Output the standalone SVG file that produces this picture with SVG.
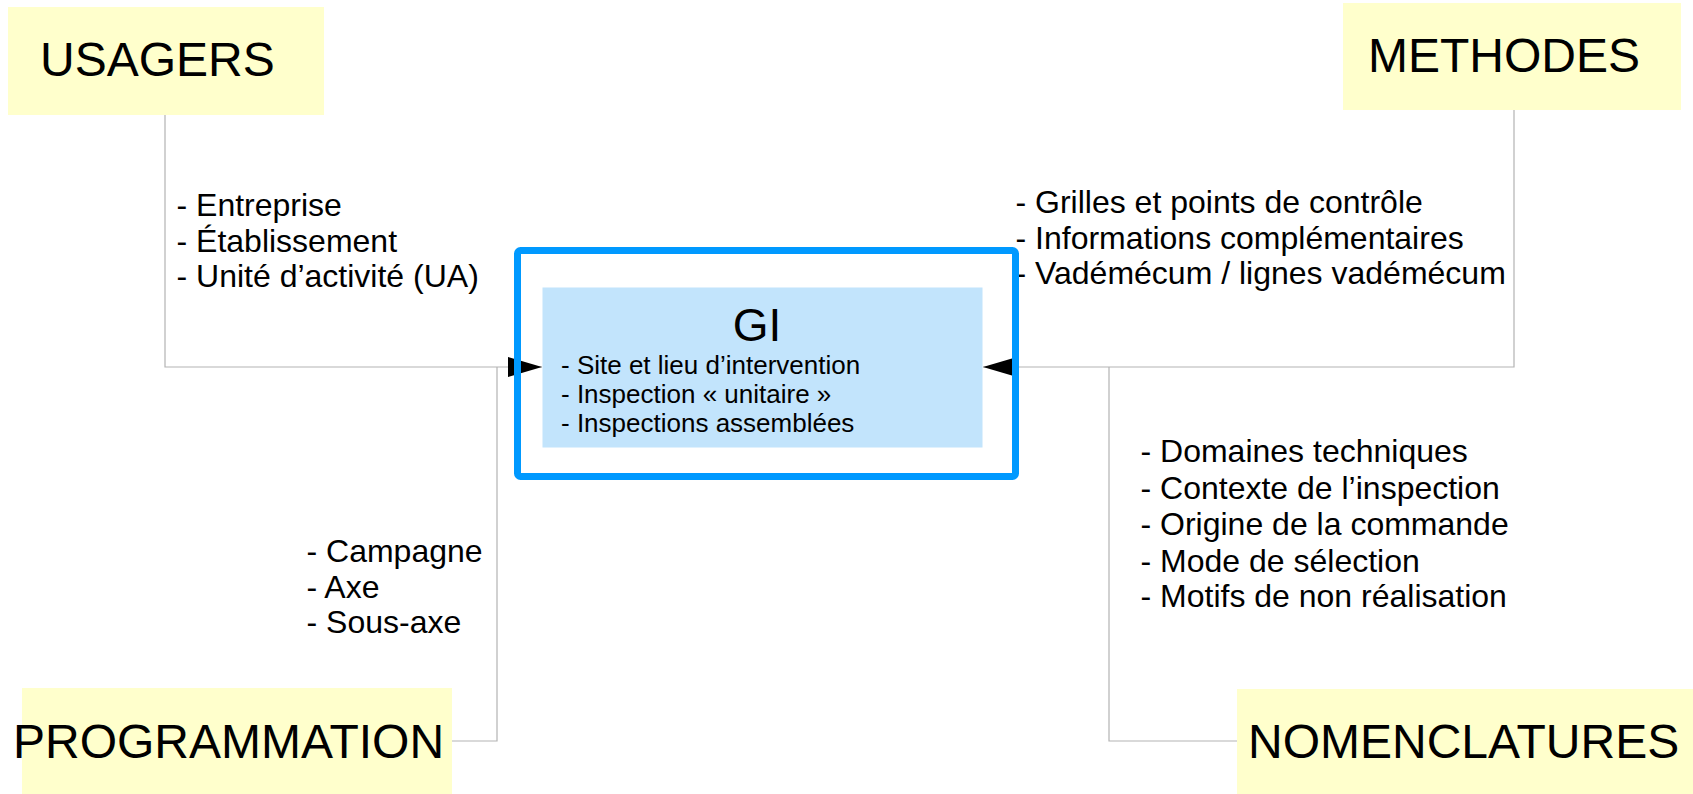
<svg xmlns="http://www.w3.org/2000/svg" width="1693" height="794" viewBox="0 0 1693 794">
  <style>
    .box { fill: #ffffcc; stroke: none; }
    .title { font-family: "Liberation Sans", Arial, sans-serif; font-size: 48px; fill: #000; }
    .list { font-family: "Liberation Sans", Arial, sans-serif; font-size: 32px; fill: #000; }
    .inner { font-family: "Liberation Sans", Arial, sans-serif; font-size: 26px; fill: #000; }
    .conn { fill: none; stroke: #b3b3b3; stroke-width: 1.2; }
  </style>
  <defs>
    <marker id="arr" viewBox="0 0 34 20" refX="34" refY="10" markerWidth="34" markerHeight="20" orient="auto" markerUnits="userSpaceOnUse">
      <path d="M0,0 L34,10 L0,20 z" fill="#000"/>
    </marker>
  </defs>
  <rect width="1693" height="794" fill="#ffffff"/>

  <g id="connectors">
    <path class="conn" d="M165,115 V367 H542" marker-end="url(#arr)"/>
    <path class="conn" d="M451,741 H497 V367"/>
    <path class="conn" d="M1514,110 V367 H983" marker-end="url(#arr)"/>
    <path class="conn" d="M1237,741 H1109 V367"/>
  </g>

  <g id="usagers">
    <rect class="box" x="8" y="7" width="316" height="108"/>
    <text class="title" x="40" y="76">USAGERS</text>
  </g>
  <g id="usagers-items">
    <text class="list" x="176.5" y="216">- Entreprise</text>
    <text class="list" x="176.5" y="251.5">- Établissement</text>
    <text class="list" x="176.5" y="287">- Unité d’activité (UA)</text>
  </g>

  <g id="methodes">
    <rect class="box" x="1343" y="3" width="338" height="107"/>
    <text class="title" x="1368" y="72">METHODES</text>
  </g>
  <g id="methodes-items">
    <text class="list" x="1015.5" y="213">- Grilles et points de contrôle</text>
    <text class="list" x="1015.5" y="248.5">- Informations complémentaires</text>
    <text class="list" x="1015.5" y="284">- Vadémécum / lignes vadémécum</text>
  </g>

  <g id="programmation">
    <rect class="box" x="22" y="688" width="430" height="106"/>
    <text class="title" x="13" y="758">PROGRAMMATION</text>
  </g>
  <g id="programmation-items">
    <text class="list" x="306.5" y="562">- Campagne</text>
    <text class="list" x="306.5" y="597.5">- Axe</text>
    <text class="list" x="306.5" y="633">- Sous-axe</text>
  </g>

  <g id="nomenclatures">
    <rect class="box" x="1237" y="689" width="456" height="105"/>
    <text class="title" x="1248" y="758">NOMENCLATURES</text>
  </g>
  <g id="nomenclatures-items">
    <text class="list" x="1140.5" y="462">- Domaines techniques</text>
    <text class="list" x="1140.5" y="498.5">- Contexte de l’inspection</text>
    <text class="list" x="1140.5" y="535">- Origine de la commande</text>
    <text class="list" x="1140.5" y="571.5">- Mode de sélection</text>
    <text class="list" x="1140.5" y="607">- Motifs de non réalisation</text>
  </g>

  <g id="gi">
    <rect x="517.5" y="250.5" width="498" height="226" rx="3" fill="none" stroke="#0099ff" stroke-width="7"/>
    <rect x="542.5" y="287.5" width="440" height="160" fill="#c2e4fc"/>
    <text x="757" y="341" font-family="Liberation Sans, Arial, sans-serif" font-size="46" text-anchor="middle">GI</text>
    <text class="inner" x="561" y="374">- Site et lieu d’intervention</text>
    <text class="inner" x="561" y="403">- Inspection « unitaire »</text>
    <text class="inner" x="561" y="432">- Inspections assemblées</text>
  </g>
</svg>
